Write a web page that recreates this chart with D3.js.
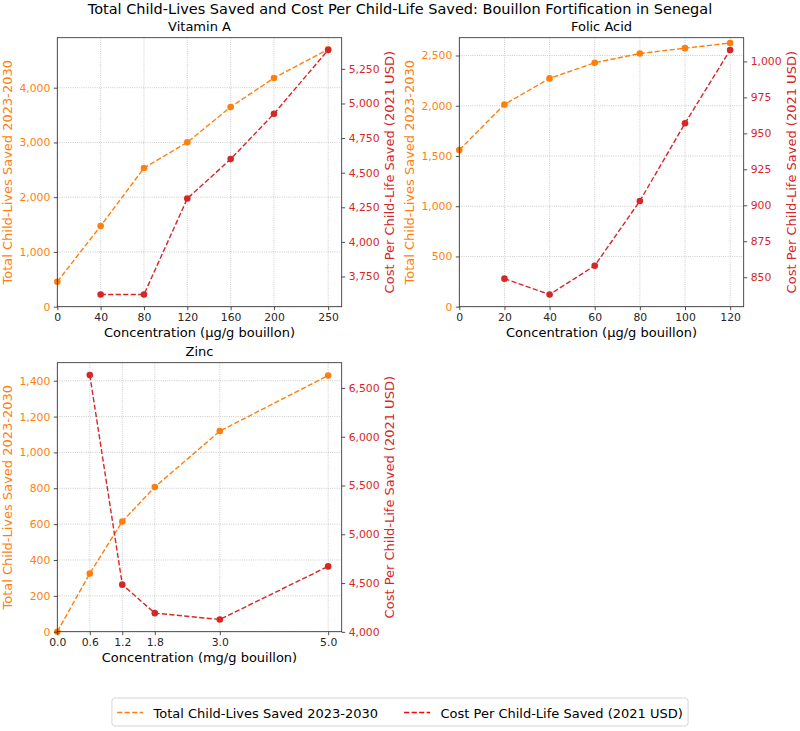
<!DOCTYPE html>
<html>
  <head>
    <script src="https://cdnjs.cloudflare.com/ajax/libs/d3/7.8.5/d3.min.js"></script>
    <style>
      body { margin: 0; background: #fff; }
      svg text { font-family: "DejaVu Sans", sans-serif; }
      .grid line { stroke: #b0b0b0; stroke-width: 0.8; stroke-dasharray: 0.8 1.4; }
      .spine { fill: none; stroke: #262626; stroke-width: 0.8; }
    </style>
  </head>
  <body>
    <svg width="800" height="731"></svg>
    <script>
      // values
      var vitaminAConc = [0, 40, 80, 120, 160, 200, 250];
      var vitaminALives = [457, 1474, 2533, 3003, 3648, 4177, 4701];
      var vitaminACost = [null, 3620, 3620, 4313, 4598, 4926, 5387];

      var folicConc = [0, 20, 40, 60, 80, 100, 120];
      var folicLives = [1560, 2013, 2272, 2428, 2520, 2573, 2624];
      var folicCost = [null, 849, 838, 858, 903, 957, 1008];

      var zincConc = [0, 0.6, 1.2, 1.8, 3.0, 5.0];
      var zincLives = [0, 325, 615, 807, 1119, 1429];
      var zincCost = [null, 6633, 4484, 4192, 4127, 4671];

      var vitaminALivesTicks = [0, 1000, 2000, 3000, 4000];
      var vitaminACostTicks = [3750, 4000, 4250, 4500, 4750, 5000, 5250];
      var folicLivesTicks = [0, 500, 1000, 1500, 2000, 2500];
      var folicCostTicks = [850, 875, 900, 925, 950, 975, 1000];
      var zincLivesTicks = [0, 200, 400, 600, 800, 1000, 1200, 1400];
      var zincCostTicks = [4000, 4500, 5000, 5500, 6000, 6500];

      var titleText = "Total Child-Lives Saved and Cost Per Child-Life Saved: Bouillon Fortification in Senegal";
      var livesLabel = "Total Child-Lives Saved 2023-2030";
      var costLabel = "Cost Per Child-Life Saved (2021 USD)";

      var orange = "#ff7f0e", red = "#d62728";
      var W = 284.4, H = 269;
      var svg = d3.select("svg");

      svg.append("text")
        .attr("x", 400).attr("y", 13.5)
        .attr("text-anchor", "middle")
        .style("font-size", "14.5px")
        .text(titleText);

      function padExtent(vals) {
        var e = d3.extent(vals.filter(v => v != null));
        var m = (e[1] - e[0]) * 0.05;
        return [e[0] - m, e[1] + m];
      }

      function drawPanel(p) {
        var g = svg.append("g").attr("transform", "translate(" + p.left + "," + p.top + ")");
        var x = d3.scaleLinear().domain([0, d3.max(p.conc) * 1.05]).range([0, W]);
        var lv = d3.extent(p.lives);
        var yL = d3.scaleLinear().domain([0, lv[1] + (lv[1] - lv[0]) * 0.05]).range([H, 0]);
        var yR = d3.scaleLinear().domain(padExtent(p.cost)).range([H, 0]);

        // grid from the left axis
        var grid = g.append("g").attr("class", "grid");
        grid.selectAll("line.v").data(p.xTicks).enter().append("line")
          .attr("x1", d => x(d)).attr("x2", d => x(d)).attr("y1", 0).attr("y2", H);
        grid.selectAll("line.h").data(p.leftTicks).enter().append("line")
          .attr("x1", 0).attr("x2", W).attr("y1", d => yL(d)).attr("y2", d => yL(d));

        var plot = g.append("g");
        var livesPts = p.conc.map((c, i) => [c, p.lives[i]]);
        var costPts = p.conc.map((c, i) => [c, p.cost[i]]).filter(d => d[1] != null);

        plot.append("path").datum(livesPts)
          .attr("d", d3.line().x(d => x(d[0])).y(d => yL(d[1])))
          .attr("fill", "none").attr("stroke", orange)
          .attr("stroke-width", 1.4).attr("stroke-dasharray", "5.2 2.3");
        plot.selectAll("circle.lives").data(livesPts).enter().append("circle")
          .attr("cx", d => x(d[0])).attr("cy", d => yL(d[1])).attr("r", 3.3)
          .attr("fill", orange);

        plot.append("path").datum(costPts)
          .attr("d", d3.line().x(d => x(d[0])).y(d => yR(d[1])))
          .attr("fill", "none").attr("stroke", red)
          .attr("stroke-width", 1.4).attr("stroke-dasharray", "5.2 2.3");
        plot.selectAll("circle.cost").data(costPts).enter().append("circle")
          .attr("cx", d => x(d[0])).attr("cy", d => yR(d[1])).attr("r", 3.3)
          .attr("fill", red);

        g.append("rect").attr("class", "spine").attr("width", W).attr("height", H);

        var xAxis = g.append("g").attr("transform", "translate(0," + H + ")")
          .call(d3.axisBottom(x).tickValues(p.xTicks).tickFormat(p.xFormat)
            .tickSize(3.5).tickPadding(3.5).tickSizeOuter(0));
        var lAxis = g.append("g")
          .call(d3.axisLeft(yL).tickValues(p.leftTicks).tickFormat(d3.format(","))
            .tickSize(3.5).tickPadding(3.5).tickSizeOuter(0));
        var rAxis = g.append("g").attr("transform", "translate(" + W + ",0)")
          .call(d3.axisRight(yR).tickValues(p.rightTicks).tickFormat(d3.format(","))
            .tickSize(3.5).tickPadding(3.5).tickSizeOuter(0));

        [xAxis, lAxis, rAxis].forEach(a => {
          a.select(".domain").remove();
          a.selectAll(".tick line").attr("stroke", "#262626").attr("stroke-width", 0.8);
          a.selectAll("text").style("font-size", "10.8px").attr("fill", "#262626")
            .style("font-family", "DejaVu Sans");
        });
        lAxis.selectAll("text").attr("fill", orange);
        rAxis.selectAll("text").attr("fill", red);

        var lw = d3.max(lAxis.selectAll("text").nodes(), n => n.getComputedTextLength());
        var rw = d3.max(rAxis.selectAll("text").nodes(), n => n.getComputedTextLength());

        g.append("text").attr("x", W / 2).attr("y", -6.3)
          .attr("text-anchor", "middle").style("font-size", "13px").text(p.title);
        g.append("text").attr("x", W / 2).attr("y", H + 30.5)
          .attr("text-anchor", "middle").style("font-size", "13px").text(p.xLabel);

        g.append("text")
          .attr("transform", "translate(" + (-(7 + lw + 4.3) - 3) + "," + H / 2 + ") rotate(-90)")
          .attr("text-anchor", "middle").style("font-size", "13px")
          .attr("fill", orange).text(livesLabel);
        g.append("text")
          .attr("transform", "translate(" + (W + 7 + rw + 4.3 + 9.8) + "," + H / 2 + ") rotate(-90)")
          .attr("text-anchor", "middle").style("font-size", "13px")
          .attr("fill", red).text(costLabel);
      }

      drawPanel({
        left: 57.3, top: 37.7, title: "Vitamin A", xLabel: "Concentration (µg/g bouillon)",
        conc: vitaminAConc, lives: vitaminALives, cost: vitaminACost,
        xTicks: vitaminAConc, xFormat: d3.format("d"),
        leftTicks: vitaminALivesTicks, rightTicks: vitaminACostTicks
      });
      drawPanel({
        left: 459.3, top: 37.7, title: "Folic Acid", xLabel: "Concentration (µg/g bouillon)",
        conc: folicConc, lives: folicLives, cost: folicCost,
        xTicks: folicConc, xFormat: d3.format("d"),
        leftTicks: folicLivesTicks, rightTicks: folicCostTicks
      });
      drawPanel({
        left: 57.3, top: 362.7, title: "Zinc", xLabel: "Concentration (mg/g bouillon)",
        conc: zincConc, lives: zincLives, cost: zincCost,
        xTicks: zincConc, xFormat: d3.format(".1f"),
        leftTicks: zincLivesTicks, rightTicks: zincCostTicks
      });

      // figure legend, lower centre
      var fs = 13, handleLen = 2 * fs, textPad = 0.8 * fs, colSpace = 2 * fs, pad = 0.4 * fs;
      var entries = [{ label: livesLabel, color: orange }, { label: costLabel, color: "#ff0000" }];
      var legend = svg.append("g");
      var box = legend.append("rect").attr("y", 698).attr("height", 28).attr("rx", 3)
        .attr("fill", "#fff").attr("fill-opacity", 0.8)
        .attr("stroke", "#d0d0d0").attr("stroke-width", 0.9);
      var texts = entries.map(e => legend.append("text").style("font-size", fs + "px").attr("y", 717.5).text(e.label));
      var widths = texts.map(t => t.node().getComputedTextLength());
      var total = 2 * pad + 2 * (handleLen + textPad) + d3.sum(widths) + colSpace;
      var cx = 400 - total / 2 + pad;
      box.attr("x", 400 - total / 2).attr("width", total);
      entries.forEach((e, i) => {
        legend.append("line").attr("x1", cx).attr("x2", cx + handleLen)
          .attr("y1", 712.5).attr("y2", 712.5)
          .attr("stroke", e.color).attr("stroke-width", 1.4).attr("stroke-dasharray", "5.2 2.3");
        texts[i].attr("x", cx + handleLen + textPad);
        cx += handleLen + textPad + widths[i] + colSpace;
      });
    </script>
  </body>
</html>
